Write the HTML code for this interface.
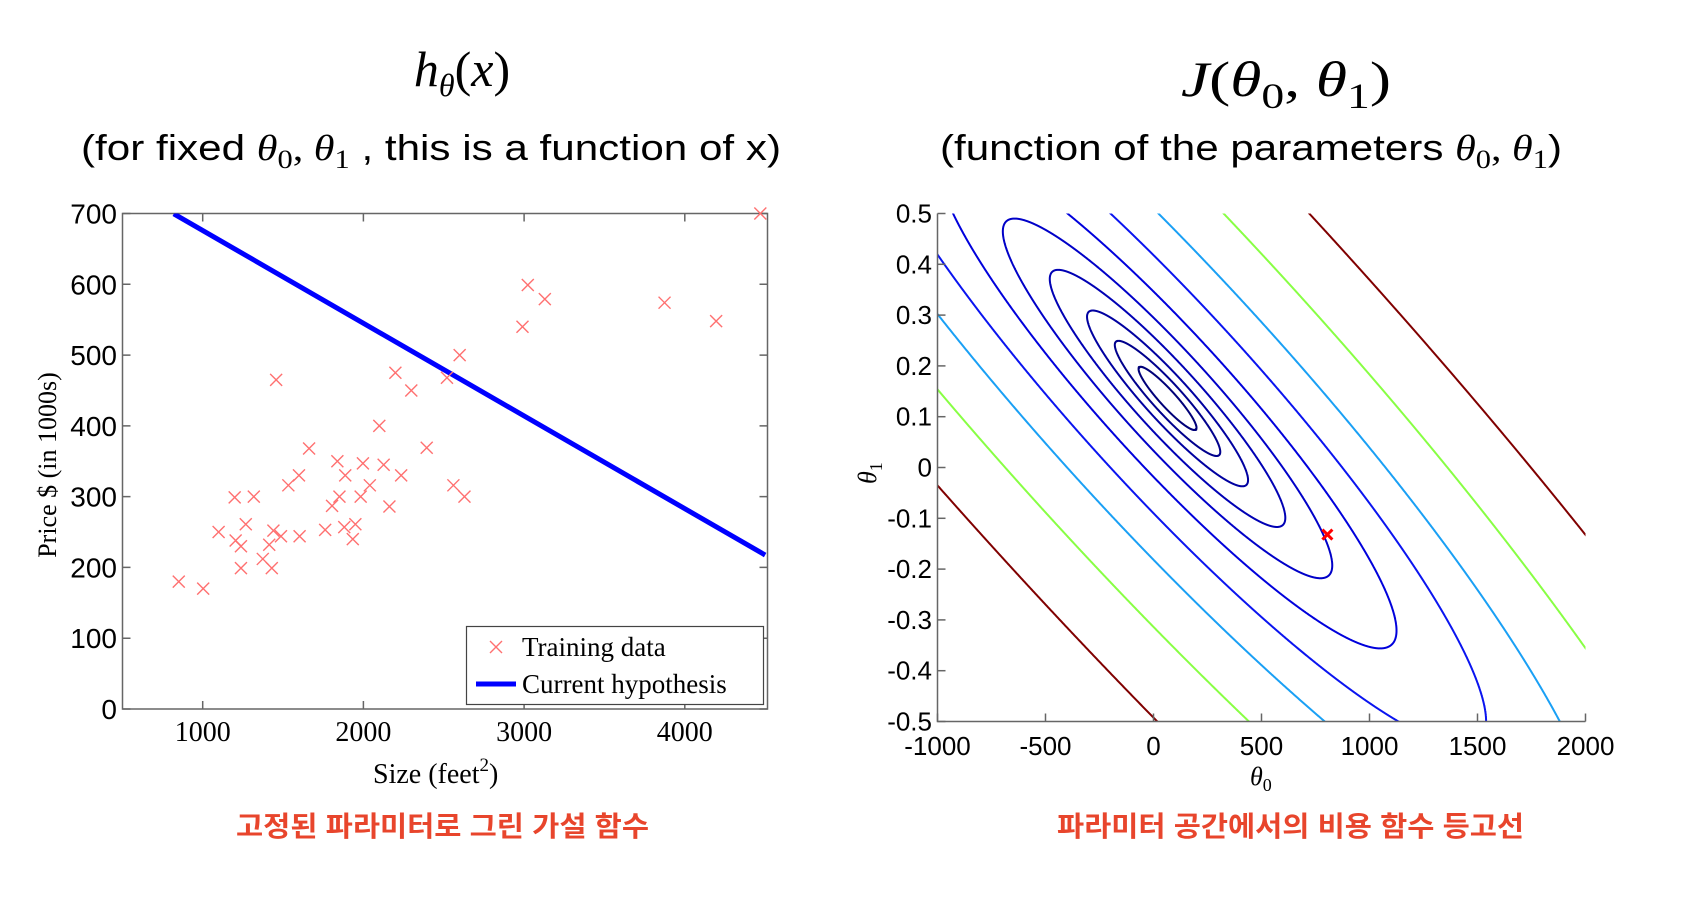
<!DOCTYPE html>
<html><head><meta charset="utf-8"><style>
html,body{margin:0;padding:0;background:#fff;width:1686px;height:914px;overflow:hidden;position:relative}
svg{display:block;position:absolute;left:0;top:0}
.serif{font-family:"Liberation Serif",serif}
.sans{font-family:"Liberation Sans",sans-serif}
</style></head><body>
<svg id="root" width="1686" height="914" viewBox="0 0 1686 914" xmlns="http://www.w3.org/2000/svg">
  <defs>
    <clipPath id="clipL"><rect x="122.5" y="213.5" width="645" height="495.5"/></clipPath>
    <clipPath id="clipR"><rect x="937.5" y="213.5" width="648" height="508"/></clipPath>
  </defs>
  <text x="462" y="86" text-anchor="middle" class="serif" font-size="50" font-style="italic">h<tspan font-size="32" dy="10">θ</tspan><tspan dy="-10" font-style="normal">(</tspan>x<tspan font-style="normal">)</tspan></text>
  <text x="81" y="160" class="sans" font-size="36" textLength="700" lengthAdjust="spacingAndGlyphs">(for fixed <tspan class="serif" font-style="italic">θ</tspan><tspan class="serif" font-size="26" dy="8">0</tspan><tspan class="serif" dy="-8">, </tspan><tspan class="serif" font-style="italic">θ</tspan><tspan class="serif" font-size="26" dy="8">1</tspan><tspan dy="-8">  , this is a function of x)</tspan></text>
  <text x="1286" y="96" text-anchor="middle" class="serif" font-size="50" font-style="italic" textLength="210" lengthAdjust="spacingAndGlyphs">J<tspan font-style="normal">(</tspan>θ<tspan font-style="normal" font-size="36" dy="12">0</tspan><tspan font-style="normal" dy="-12">, </tspan>θ<tspan font-style="normal" font-size="36" dy="12">1</tspan><tspan font-style="normal" dy="-12">)</tspan></text>
  <text x="940" y="160" class="sans" font-size="36" textLength="622" lengthAdjust="spacingAndGlyphs">(function of the parameters <tspan class="serif" font-style="italic">θ</tspan><tspan class="serif" font-size="26" dy="8">0</tspan><tspan class="serif" dy="-8">, </tspan><tspan class="serif" font-style="italic">θ</tspan><tspan class="serif" font-size="26" dy="8">1</tspan><tspan dy="-8">)</tspan></text>
  <text x="236" y="836" font-family="'Liberation Sans','Noto Sans CJK KR',sans-serif" font-weight="bold" font-size="28" fill="#e8452c" textLength="413" lengthAdjust="spacingAndGlyphs">고정된 파라미터로 그린 가설 함수</text>
  <text x="1057" y="836" font-family="'Liberation Sans','Noto Sans CJK KR',sans-serif" font-weight="bold" font-size="28" fill="#e8452c" textLength="467" lengthAdjust="spacingAndGlyphs">파라미터 공간에서의 비용 함수 등고선</text>
  <g id="left"></g>
  <g id="right"></g>
</svg>
<script>
const sizes = [851,1003,1099,1199,1205,1238,1238,1268,1318,1374,1414,1430,1440,1457,1487,1533,1599,1603,1662,1762,1805,1838,1851,1887,1881,1934,1950,1983,1997,2040,2099,2126,2162,2199,2235,2298,2394,2520,2560,2599,2629,2990,3023,3129,3874,4195,4470];
const prices = [180,170,250,299,238,230,199,261,300,212,232,199,252,465,244,316,330,244,368,253,287,350,300,330,257,240,261,300,347,316,400,345,286,475,330,450,369,468,316,500,300,540,599,579,574,548,700];
const theta = [807, -0.131];
const xTicksL = [1000,2000,3000,4000];
const yTicksL = [0,100,200,300,400,500,600,700];
const costCenter = [65, 0.136];
const sizeMean = [2000];
const sizeVar = [640000];
const costLevels = [2480,8220,19160,41000,80200,155000,300000,555000,1060000,2000000];
const levelColors = ['#000078','#00008c','#0000a0','#0000b4','#0000c8','#0000dc','#0a14f0','#1aa0f5','#88ff44','#800000'];
const xTicksR = [-1000,-500,0,500,1000,1500,2000];
const yTicksR = [0.5,0.4,0.3,0.2,0.1,0,-0.1,-0.2,-0.3,-0.4,-0.5];
const currentPoint = [805, -0.132];

const NS='http://www.w3.org/2000/svg';
function mk(tag, attrs, parent){const e=document.createElementNS(NS,tag);for(const k in attrs)e.setAttribute(k,attrs[k]);parent.appendChild(e);return e;}

const xL = v => 202.7 + (v-1000)*0.1607;
const yL = v => 709 - v*(495.5/700);
const xR = v => 937.5 + (v+1000)*(648/3000);
const yR = v => 213.5 + (0.5 - v)*508;

const L = document.getElementById('left');
const axL = mk('rect',{x:122.5,y:213.5,width:645,height:495.5,fill:'none',stroke:'#666','stroke-width':1.5},L);


xTicksL.forEach(t=>{
  const x=xL(t);
  const tk=mk('path',{d:`M${x},709 v-8 M${x},213.5 v8`,stroke:'#666','stroke-width':1.5},L);
  
  
  const lb=mk('text',{x:x,y:741,'text-anchor':'middle','font-size':28,class:'serif'},L);
  lb.textContent=t;
  
  
});
yTicksL.forEach(t=>{
  const y=yL(t);
  const tk=mk('path',{d:`M122.5,${y} h8 M767.5,${y} h-8`,stroke:'#666','stroke-width':1.5},L);
  
  
  const lb=mk('text',{x:117,y:y+10,'text-anchor':'end','font-size':28,class:'sans'},L);
  lb.textContent=t;
  
  
});
const xt=mk('text',{x:373,y:783,'font-size':28,class:'serif'},L);
xt.innerHTML='Size (feet<tspan font-size="19" dy="-12">2</tspan><tspan dy="12">)</tspan>';


const yt=mk('text',{x:0,y:0,'font-size':26,class:'serif','text-anchor':'middle',transform:'translate(56,465) rotate(-90)'},L);
yt.textContent='Price $ (in 1000s)';



const gL=mk('g',{'clip-path':'url(#clipL)'},L);
const x0=820, x1=4500;
const hl=mk('line',{x1:xL(x0),y1:yL(theta[0]+theta[1]*x0),x2:xL(x1),y2:yL(theta[0]+theta[1]*x1),stroke:'#0000ff','stroke-width':5},gL);


sizes.forEach((s,i)=>{
  const cx=xL(s), cy=yL(prices[i]), r=6;
  const m=mk('path',{d:`M${cx-r},${cy-r}L${cx+r},${cy+r}M${cx-r},${cy+r}L${cx+r},${cy-r}`,stroke:'#ff7070','stroke-width':1.4,fill:'none'},L);
  
  
});
const lg=mk('g',{},L);


mk('rect',{x:466.5,y:626.5,width:297,height:78,fill:'#fff',stroke:'#444','stroke-width':1.2},lg);
mk('path',{d:'M490,641L502,653M490,653L502,641',stroke:'#ff7070','stroke-width':1.4},lg);
const le1=mk('text',{x:522,y:656,'font-size':27,class:'serif'},lg);
le1.textContent='Training data';


mk('line',{x1:476,y1:684,x2:516,y2:684,stroke:'#0000ff','stroke-width':5},lg);
const le2=mk('text',{x:522,y:693,'font-size':27,class:'serif'},lg);
le2.textContent='Current hypothesis';



const R=document.getElementById('right');
const gR=mk('g',{'clip-path':'url(#clipR)'},R);
const BX0=934.5, BX1=1588.5, BY0=210.5, BY1=724.5;
costLevels.forEach((lev,i)=>{
  const r=Math.sqrt(lev), sv=Math.sqrt(sizeVar[0]);
  let d='', pen=false;
  const N=6000;
  for(let k=0;k<=N;k++){
    const ph=k/N*2*Math.PI;
    const a=r*Math.cos(ph), b=r*Math.sin(ph);
    const d1=b/sv, d0=a-d1*sizeMean[0];
    const px=xR(costCenter[0]+d0), py=yR(costCenter[1]+d1);
    if(px>=BX0&&px<=BX1&&py>=BY0&&py<=BY1){
      d+=(pen?'L':'M')+px.toFixed(2)+','+py.toFixed(2);
      pen=true;
    } else pen=false;
  }
  const p=mk('path',{d:d,fill:'none',stroke:levelColors[i],'stroke-width':2},gR);
  
  
});
const ax=mk('path',{d:'M937.5,213.5V721.5H1585.5',fill:'none',stroke:'#666','stroke-width':1.5},R);


xTicksR.forEach(t=>{
  const x=xR(t);
  const tk=mk('path',{d:`M${x},721.5v-8`,stroke:'#666','stroke-width':1.5},R);
  
  
  const lb=mk('text',{x:x,y:755,'text-anchor':'middle','font-size':26,class:'sans'},R);
  lb.textContent=t;
  
  
});
yTicksR.forEach(t=>{
  const y=yR(t);
  const tk=mk('path',{d:`M937.5,${y}h8`,stroke:'#666','stroke-width':1.5},R);
  
  
  const lb=mk('text',{x:932,y:y+9,'text-anchor':'end','font-size':26,class:'sans'},R);
  lb.textContent=t;
  
  
});
const t0=mk('text',{x:1250,y:785,'font-size':26,class:'serif','font-style':'italic'},R);
t0.innerHTML='θ<tspan font-size="18" dy="6" font-style="normal">0</tspan>';


const t1=mk('text',{x:0,y:0,'font-size':26,class:'serif','font-style':'italic',transform:'translate(876,484) rotate(-90)'},R);
t1.innerHTML='θ<tspan font-size="18" dy="6" font-style="normal">1</tspan>';


const cpx=xR(currentPoint[0]), cpy=yR(currentPoint[1]);
const cp=mk('path',{d:`M${cpx-5},${cpy-5}L${cpx+5},${cpy+5}M${cpx-5},${cpy+5}L${cpx+5},${cpy-5}`,stroke:'#ff0000','stroke-width':3},R);


</script>
</body></html>
